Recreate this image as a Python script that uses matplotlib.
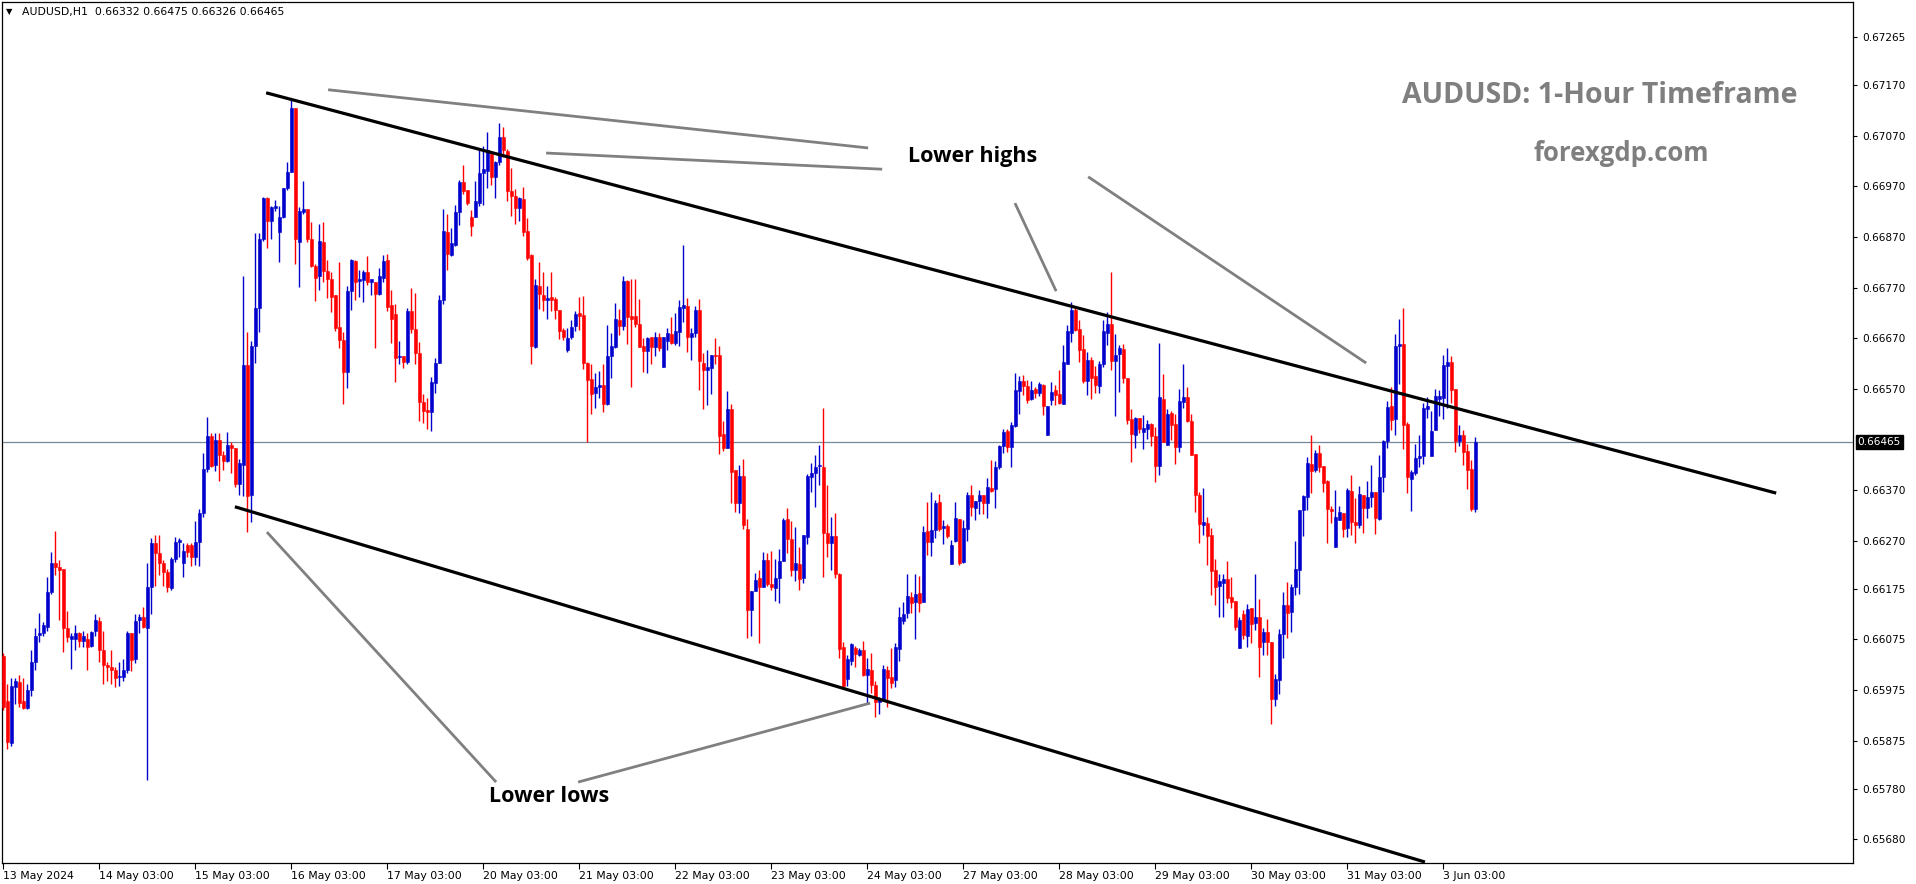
import matplotlib
matplotlib.use("Agg")
import matplotlib.pyplot as plt
import matplotlib.transforms as mtransforms
import numpy as np

# ---------------- data (prices in 1e-5 units, hourly candles 13 May - 3 Jun 2024) -------------
symbol = "AUDUSD,H1"
o_pts = [
66042,65953,65870,65981,65990,65953,65940,65975,66031,66083,66087,66100,66168,66226,66218,66215,66098,66075,66075,66087,
66072,66075,66061,66092,66112,66053,66025,66020,66014,66000,66000,66014,66087,66037,66114,66120,66098,66178,66265,66245,
66226,66209,66176,66234,66267,66226,66261,66261,66237,66267,66324,66412,66476,66420,66468,66439,66428,66459,66454,66382,
66420,66617,66361,66654,66729,66866,66947,66902,66927,66880,66910,66966,66999,67124,66860,66920,66925,66866,66812,66793,
66860,66802,66787,66755,66692,66667,66604,66763,66823,66784,66785,66800,66782,66782,66757,66790,66825,66736,66718,66632,
66635,66624,66723,66688,66640,66545,66528,66525,66581,66622,66746,66880,66835,66854,66919,66979,66963,66910,66910,66938,
66996,67001,67034,66989,67019,67068,67039,66961,66951,66928,66945,66882,66835,66652,66774,66755,66746,66751,66748,66726,
66686,66647,66672,66694,66719,66716,66622,66589,66561,66573,66578,66540,66635,66653,66706,66695,66783,66714,66714,66699,
66655,66644,66672,66652,66673,66613,66665,66678,66661,66683,66730,66734,66673,66681,66726,66622,66607,66612,66636,66637,
66481,66454,66530,66410,66345,66398,66294,66133,66171,66196,66179,66232,66184,66177,66197,66230,66313,66273,66213,66224,
66197,66278,66395,66403,66418,66416,66286,66265,66279,66204,66059,65997,66033,66057,66044,66054,66005,66014,65985,65952,
65958,66014,66000,65994,66056,66112,66128,66159,66148,66166,66148,66290,66268,66291,66347,66296,66299,66224,66269,66313,
66227,66294,66360,66334,66349,66360,66345,66374,66373,66415,66458,66487,66456,66497,66566,66586,66576,66549,66570,66561,
66578,66479,66548,66568,66560,66541,66619,66681,66726,66688,66649,66586,66627,66595,66576,66619,66681,66698,66626,66639,
66649,66592,66510,66479,66512,66485,66491,66500,66476,66418,66550,66460,66522,66501,66456,66545,66554,66506,66441,66360,
66301,66304,66281,66212,66181,66187,66194,66159,66151,66057,66126,66082,66136,66108,66119,66070,66089,66069,65958,65995,
66085,66143,66130,66178,66213,66331,66357,66422,66410,66443,66418,66387,66333,66258,66310,66324,66296,66368,66306,66301,
66360,66335,66357,66367,66312,66395,66466,66536,66510,66655,66659,66501,66392,66404,66434,66438,66530,66438,66489,66550,
66551,66615,66624,66570,66467,66478,66447,66412,66332]
h_pts = [
66048,65986,65998,65998,66005,65998,65986,66053,66098,66128,66109,66198,66248,66290,66231,66215,66131,66087,66103,66090,
66092,66087,66092,66126,66120,66092,66031,66053,66020,66031,66037,66092,66087,66126,66126,66139,66226,66276,66281,66281,
66231,66215,66237,66278,66276,66265,66265,66265,66309,66332,66443,66515,66482,66482,66482,66448,66485,66465,66454,66432,
66793,66682,66665,66877,66877,66949,66949,66932,66944,66932,66966,67018,67141,67124,66929,66980,66925,66899,66816,66896,
66900,66825,66800,66755,66821,66682,66773,66827,66825,66805,66805,66833,66787,66782,66808,66835,66837,66765,66738,66665,
66635,66729,66769,66759,66663,66560,66551,66594,66630,66755,66925,66916,66887,66933,66983,67012,66963,66923,66981,67043,
67050,67078,67039,67020,67096,67088,67043,67006,66964,66950,66968,66907,66836,66787,66820,66800,66773,66800,66752,66726,
66690,66690,66706,66723,66752,66753,66623,66620,66601,66606,66620,66696,66680,66740,66727,66793,66785,66787,66788,66747,
66670,66673,66673,66682,66680,66673,66690,66711,66719,66746,66854,66749,66690,66734,66748,66640,66647,66637,66670,66655,
66507,66566,66540,66410,66419,66431,66313,66171,66207,66212,66248,66246,66250,66234,66253,66314,66335,66308,66298,66258,
66281,66401,66423,66439,66459,66533,66380,66317,66325,66206,66070,66044,66067,66062,66057,66072,66039,66049,65992,65962,
66024,66022,66057,66068,66138,66148,66204,66168,66204,66200,66299,66347,66366,66350,66362,66311,66303,66271,66347,66313,
66310,66367,66380,66349,66371,66360,66394,66429,66427,66459,66491,66491,66505,66602,66595,66597,66588,66586,66574,66584,
66580,66536,66584,66578,66607,66657,66696,66741,66732,66706,66676,66642,66632,66615,66625,66706,66721,66800,66678,66657,
66659,66592,66530,66515,66512,66518,66508,66503,66495,66661,66599,66530,66526,66520,66570,66619,66573,66520,66441,66367,
66375,66316,66296,66234,66204,66205,66230,66199,66151,66120,66133,66145,66136,66204,66155,66098,66115,66069,66006,66095,
66168,66188,66184,66269,66331,66360,66436,66478,66449,66459,66418,66390,66339,66371,66339,66324,66375,66400,66354,66378,
66360,66387,66420,66367,66439,66469,66546,66574,66678,66709,66729,66504,66410,66461,66478,66543,66553,66526,66569,66568,
66637,66650,66635,66570,66499,66489,66461,66429,66475]
l_pts = [
65936,65858,65864,65947,65942,65938,65938,65964,66014,66070,66081,66092,66165,66203,66114,66050,66070,66016,66053,66059,
66059,66014,66059,66081,66031,65986,65992,65986,65981,65983,65992,66009,66012,66028,66087,66098,65797,66126,66181,66203,
66181,66168,66172,66228,66237,66198,66237,66220,66222,66220,66317,66406,66415,66407,66387,66409,66426,66404,66376,66361,
66359,66287,66306,66621,66682,66862,66849,66866,66921,66821,66907,66962,66999,66816,66771,66916,66860,66810,66743,66766,
66782,66749,66721,66685,66650,66541,66572,66725,66746,66752,66742,66775,66755,66651,66755,66782,66723,66660,66584,66620,
66611,66620,66680,66620,66507,66502,66490,66487,66562,66622,66738,66804,66833,66853,66894,66956,66933,66873,66909,66931,
66933,66966,66973,66948,67012,67029,66942,66912,66896,66902,66872,66825,66619,66650,66727,66723,66709,66723,66709,66669,
66667,66642,66668,66685,66686,66609,66465,66520,66532,66551,66525,66538,66592,66650,66676,66686,66659,66573,66692,66652,
66604,66602,66620,66634,66644,66613,66647,66659,66657,66655,66703,66643,66627,66672,66568,66530,66538,66560,66620,66441,
66448,66453,66345,66327,66325,66293,66078,66082,66171,66067,66179,66181,66172,66151,66147,66230,66245,66200,66191,66173,
66187,66263,66367,66337,66380,66199,66238,66212,66196,66038,65978,65982,66024,66020,66042,66003,65949,65970,65922,65927,
65955,65942,65978,65980,66033,66105,66118,66128,66076,66130,66148,66242,66240,66276,66290,66263,66275,66224,66267,66222,
66225,66270,66319,66310,66323,66323,66315,66367,66334,66411,66443,66446,66416,66494,66520,66558,66543,66548,66551,66556,
66518,66479,66538,66538,66541,66540,66619,66663,66685,66624,66582,66558,66550,66562,66562,66613,66657,66607,66517,66564,
66581,66500,66426,66454,66483,66451,66471,66458,66385,66400,66464,66459,66469,66422,66446,66532,66505,66439,66327,66266,
66281,66222,66163,66143,66120,66120,66146,66136,66093,66057,66076,66059,66067,66093,66001,66044,66045,65907,65944,65968,
66038,66077,66090,66163,66164,66279,66331,66364,66405,66406,66367,66266,66304,66258,66310,66278,66278,66281,66266,66295,
66286,66314,66337,66283,66311,66366,66453,66489,66479,66580,66451,66365,66329,66400,66416,66422,66513,66438,66489,66516,
66510,66533,66543,66446,66458,66420,66372,66329,66326]
c_pts = [
65942,65872,65983,65992,65950,65940,65975,66031,66081,66087,66103,66168,66226,66217,66212,66098,66079,66081,66087,66072,
66081,66059,66090,66114,66053,66025,66020,66014,65998,66003,66014,66087,66034,66112,66120,66100,66178,66265,66245,66226,
66209,66179,66234,66267,66272,66250,66248,66237,66267,66324,66412,66476,66417,66468,66439,66428,66459,66454,66382,66424,
66617,66359,66654,66729,66866,66947,66902,66929,66932,66910,66966,66999,67124,66866,66921,66925,66866,66812,66790,66862,
66802,66787,66752,66691,66667,66604,66763,66825,66782,66785,66800,66781,66787,66757,66793,66823,66732,66709,66630,66634,
66624,66723,66688,66640,66545,66526,66525,66583,66622,66746,66882,66836,66858,66919,66979,66961,66938,66892,66941,66996,
67004,67042,66989,67019,67068,67041,66960,66951,66928,66948,66879,66829,66655,66775,66757,66746,66749,66746,66725,66685,
66672,66671,66692,66717,66713,66622,66588,66560,66573,66578,66540,66635,66655,66708,66695,66783,66711,66709,66698,66653,
66644,66671,66652,66672,66650,66673,66680,66661,66684,66731,66736,66672,66681,66726,66626,66607,66613,66636,66634,66477,
66454,66530,66406,66345,66398,66301,66133,66171,66192,66179,66232,66184,66179,66197,66230,66310,66273,66212,66226,66194,
66281,66397,66403,66416,66420,66285,66265,66279,66204,66055,65982,66036,66066,66046,66054,66005,66016,65985,65952,65958,
66016,65998,65989,66060,66119,66126,66161,66146,66165,66146,66288,66268,66291,66345,66294,66298,66279,66261,66315,66225,
66296,66360,66337,66349,66360,66344,66377,66369,66415,66457,66484,66456,66499,66568,66586,66576,66548,66568,66562,66580,
66537,66536,66564,66558,66543,66624,66684,66726,66686,66647,66586,66627,66592,66578,66620,66684,66698,66626,66637,66651,
66592,66508,66481,66512,66491,66492,66500,66476,66418,66553,66464,66520,66499,66456,66546,66553,66506,66439,66360,66303,
66306,66279,66210,66179,66190,66194,66157,66149,66100,66113,66084,66135,66105,66119,66059,66089,66070,65958,65996,66085,
66143,66128,66178,66215,66331,66358,66424,66408,66443,66416,66383,66333,66329,66316,66326,66293,66370,66306,66301,66362,
66335,66356,66367,66315,66395,66467,66535,66508,66655,66659,66499,66395,66406,66434,66438,66533,66537,66487,66555,66556,
66617,66624,66568,66467,66479,66446,66410,66333,66465]

# x-axis date labels (one per trading day, every 24 hourly bars)
date_labels = ["13 May 2024", "14 May 03:00", "15 May 03:00", "16 May 03:00", "17 May 03:00",
               "20 May 03:00", "21 May 03:00", "22 May 03:00", "23 May 03:00", "24 May 03:00",
               "27 May 03:00", "28 May 03:00", "29 May 03:00", "30 May 03:00", "31 May 03:00",
               "3 Jun 03:00"]
bars_per_day = 24

# right price scale labels
price_labels = ["0.67265", "0.67170", "0.67070", "0.66970", "0.66870", "0.66770", "0.66670", "0.66570",
                "0.66370", "0.66270", "0.66175", "0.66075", "0.65975", "0.65875", "0.65780", "0.65680"]

# hand-drawn annotation lines: (bar index, price)
channel_upper = [(65.7, 0.67155), (443.2, 0.66364)]
channel_lower = [(57.9, 0.66337), (355.4, 0.65635)]
pointer_lines = [
    [(81.2, 0.67161), (216.2, 0.67046)],
    [(135.7, 0.67036), (219.7, 0.67004)],
    [(252.9, 0.66937), (263.2, 0.66763)],
    [(271.2, 0.66989), (340.7, 0.66621)],
    [(65.9, 0.66287), (123.2, 0.65793)],
    [(143.7, 0.65793), (216.7, 0.65949)],
]
label_highs = ("Lower highs", 242.4, 0.67030)
label_lows = ("Lower lows", 136.5, 0.65764)
title_text = "AUDUSD: 1-Hour Timeframe"
site_text = "forexgdp.com"

# ---------------- drawing -------------
W, H = 1916, 884
fig = plt.figure(figsize=(W / 100, H / 100), dpi=100)
fig.patch.set_facecolor("white")
ax = fig.add_axes([2 / W, 21 / H, 1851 / W, 861 / H])

o = np.array(o_pts) / 1e5
h = np.array(h_pts) / 1e5
l = np.array(l_pts) / 1e5
c = np.array(c_pts) / 1e5
x = np.arange(len(c))
up = c >= o
blue, red = "#0000cd", "#ff0000"
cols = np.where(up, blue, red)

ax.vlines(x, l, h, colors=cols, linewidth=1.0, zorder=3)
bottoms = np.minimum(o, c)
heights = np.maximum(np.abs(c - o), 0.000022)
ax.bar(x, heights, bottom=bottoms, width=0.72, color=cols, edgecolor=cols, linewidth=0.4, zorder=4)

ax.set_xlim(-0.325, 462.4)
ax.set_ylim(0.656331, 0.673344)

# current price line
ax.axhline(c[-1], color="#778899", linewidth=0.9, zorder=2)

# channel & pointer lines
for seg in (channel_upper, channel_lower):
    (x0, y0), (x1, y1) = seg
    ax.plot([x0, x1], [y0, y1], color="black", linewidth=2.3, solid_capstyle="butt", zorder=5, clip_on=True)
for seg in pointer_lines:
    (x0, y0), (x1, y1) = seg
    ax.plot([x0, x1], [y0, y1], color="#808080", linewidth=2.0, solid_capstyle="butt", zorder=5)

txt_font = ["Open Sans", "DejaVu Sans"]
ax.text(label_highs[1], label_highs[2], label_highs[0], ha="center", va="center",
        fontsize=15.5, fontweight="bold", family=txt_font, color="black", zorder=6)
ax.text(label_lows[1], label_lows[2], label_lows[0], ha="center", va="center",
        fontsize=15.5, fontweight="bold", family=txt_font, color="black", zorder=6)
ax.text(0.8633, 0.8823, title_text, transform=ax.transAxes, ha="center", va="baseline",
        fontsize=20.5, fontweight="bold", family=txt_font, color="#7f7f7f", zorder=6)
ax.text(0.8747, 0.8150, site_text, transform=ax.transAxes, ha="center", va="baseline",
        fontsize=18.5, fontweight="bold", family=txt_font, color="#7f7f7f", zorder=6)

# axes styling
for s in ax.spines.values():
    s.set_color("black")
    s.set_linewidth(0.9)

ax.yaxis.tick_right()
ax.set_yticks([float(v) for v in price_labels])
ax.set_yticklabels(price_labels)
ax.tick_params(axis="y", direction="out", length=3, width=0.8, pad=4, labelsize=7.6, colors="black")

xt = [k * bars_per_day for k in range(len(date_labels))]
ax.set_xticks(xt)
ax.set_xticklabels(date_labels)
for lab in ax.get_xticklabels():
    lab.set_horizontalalignment("left")
ax.tick_params(axis="x", direction="out", length=4, width=0.8, pad=2, labelsize=7.8, colors="black")

# current price box on the right scale
trans = mtransforms.blended_transform_factory(ax.transAxes, ax.transData)
ax.text(1.0025, c[-1], f"{c[-1]:.5f}", transform=trans, ha="left", va="center",
        fontsize=7.6, color="white", clip_on=False, zorder=10,
        bbox=dict(boxstyle="square,pad=0.18", facecolor="black", edgecolor="black"))

# header
fig.text(6 / W, 1 - 12 / H, "\u25BC", fontsize=6, va="center", ha="left", color="black")
hdr = f"{symbol}  {o[-1]:.5f} {h[-1]:.5f} {l[-1]:.5f} {c[-1]:.5f}"
fig.text(22 / W, 1 - 12 / H, hdr, fontsize=7.8, va="center", ha="left", color="black")

fig.savefig("out.png", dpi=100, facecolor="white")
